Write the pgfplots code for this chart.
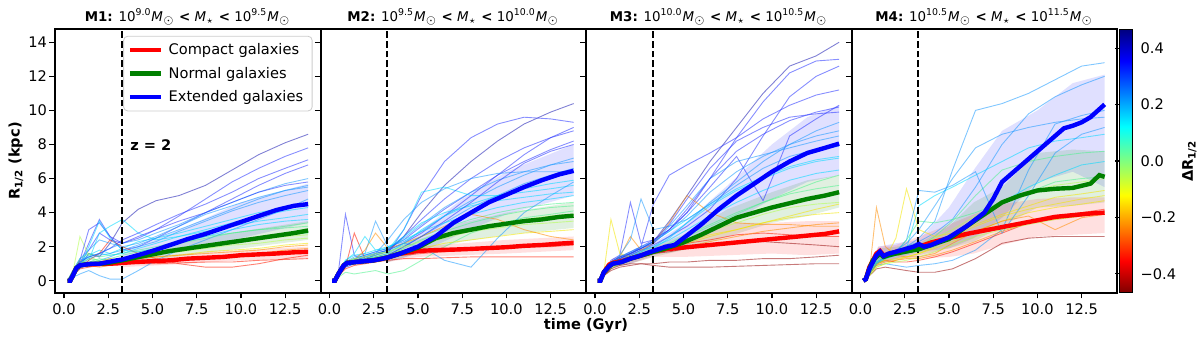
\documentclass[border=0pt]{standalone}
\usepackage{fontspec}
\setmainfont{DejaVu Sans}
\usepackage{pgfplots}
\usepackage{pgfplotstable}
\pgfplotsset{compat=1.18}
\usepgfplotslibrary{groupplots}

% jet-like colours used for the individual galaxies
\definecolor{jDR}{rgb}{0.6,0.05,0.05}
\definecolor{jR}{rgb}{1,0.1,0}
\definecolor{jO}{rgb}{1,0.55,0}
\definecolor{jY}{rgb}{0.95,0.9,0}
\definecolor{jYG}{rgb}{0.7,1,0.3}
\definecolor{jG}{rgb}{0.3,0.95,0.55}
\definecolor{jC}{rgb}{0,0.85,1}
\definecolor{jLB}{rgb}{0.1,0.6,1}
\definecolor{jB}{rgb}{0.15,0.2,1}
\definecolor{jDB}{rgb}{0.1,0.1,0.7}
\definecolor{mgreen}{rgb}{0,0.5,0}

\pgfplotsset{
  colormap={jetr}{rgb(0pt)=(0.5,0,0); rgb(12pt)=(1,0,0); rgb(37pt)=(1,1,0); rgb(50pt)=(0.5,1,0.5); rgb(63pt)=(0,1,1); rgb(88pt)=(0,0,1); rgb(100pt)=(0,0,0.5)},
  gal/.style={line width=0.45pt, draw opacity=0.55, forget plot},
  mean/.style={line width=2.2pt},
  band/.style={draw=none, fill opacity=0.12, forget plot},
  zline/.style={black, line width=1pt, dash pattern=on 3.4pt off 1.5pt, forget plot},
}
\newcommand{\gal}[3]{\addplot[gal,#2] table[x=x,y=#3]{#1};}
\newcommand{\Msun}{\textit{M}$_{\odot}$}
\newcommand{\Mst}{\textit{M}$_{\star}$}

% M1 individual tracks
\pgfplotstableread{
x     a   b   c   d   e   f   g   h   i   j   k   l   m   n    o   p   r   s   t   u   v   w   z1  z2
0.2   0   0   0   0   0   0   0   0   0   0   0   0   0   0    0   0   0   0   0   0   0   0   0   0
0.5   0.3 0.4 0.5 0.6 0.4 0.5 0.3 0.6 0.4 0.5 0.6 0.5 0.4 0.3  0.2 0.5 0.4 0.5 0.3 0.4 0.5 0.3 0.6 0.4
0.9   0.9 1.0 1.0 1.2 0.8 1.1 0.7 1.3 0.9 2.6 1.2 1.0 0.8 0.7  0.4 1.2 0.9 1.0 0.8 1.0 1.1 0.8 1.3 0.9
1.4   1.6 1.8 2.2 1.4 1.0 1.5 1.2 1.6 1.1 1.5 1.0 0.9 1.2 0.8  0.6 3.0 1.3 1.4 2.0 1.3 1.4 1.0 1.8 1.0
2.0   1.4 2.8 3.6 1.6 1.2 1.8 2.8 1.4 1.3 1.1 0.9 0.8 1.6 0.9  0.3 3.4 1.5 1.6 3.5 1.2 1.6 1.1 2.4 1.1
2.6   2.2 2.4 2.6 1.9 1.4 1.6 3.2 1.5 1.2 1.2 1.0 0.9 2.4 0.9  0.1 2.6 1.6 1.5 2.5 1.3 1.9 1.2 2.2 1.3
3.3   3.4 2.2 1.8 2.2 1.7 1.9 3.6 1.6 1.3 1.2 1.1 1.0 2.0 1.0  0.1 2.2 1.8 1.6 1.8 1.5 2.4 1.3 2.0 1.2
4.2   4.2 2.5 2.0 2.4 2.0 2.3 2.8 1.8 1.5 1.4 1.3 1.1 1.6 1.0  0.6 2.6 2.1 1.9 1.7 1.7 2.8 1.5 2.2 1.3
5.2   4.7 3.0 2.5 2.8 2.3 2.5 2.4 2.0 1.7 1.6 1.4 1.2 1.3 1.0  1.2 3.0 2.5 2.2 1.9 1.9 3.3 1.6 2.6 1.4
6.5   5.0 3.8 3.2 3.3 2.9 2.8 2.6 2.3 1.9 1.7 1.5 1.3 1.0 1.05 1.8 3.5 3.0 2.6 2.2 2.2 3.9 1.8 3.2 1.5
8.0   5.6 4.8 4.0 4.0 3.5 3.2 2.9 2.6 2.1 1.9 1.7 1.4 0.8 1.1  2.4 4.0 3.6 3.0 2.6 2.5 4.5 2.0 3.9 1.6
9.5   6.5 5.8 4.8 4.6 4.1 3.6 3.2 2.8 2.3 2.1 1.8 1.5 0.8 1.1  3.0 4.6 4.2 3.4 3.0 2.8 5.2 2.2 4.4 1.7
11.0  7.4 6.6 5.6 5.2 4.6 4.0 3.5 3.0 2.5 2.2 1.9 1.6 1.0 1.2  3.6 5.2 4.8 3.8 3.3 3.0 6.0 2.4 4.9 1.8
12.5  8.1 7.3 6.3 5.7 5.0 4.3 3.7 3.2 2.7 2.4 2.1 1.8 1.3 1.25 4.2 5.6 5.3 4.1 3.5 3.1 6.6 2.6 5.3 2.0
13.8  8.6 7.8 6.8 6.0 5.3 4.6 3.9 3.4 2.8 2.5 2.2 1.9 1.5 1.3  4.8 5.8 5.6 4.3 3.6 3.2 7.1 2.7 5.5 2.1
}\tabA

% M2 individual tracks
\pgfplotstableread{
x     a    b   c   d   e   f   g   h   i   j   k   l   m   n   o    p   r   s   t   u   v   w   z1  z2
0.2   0    0   0   0   0   0   0   0   0   0   0   0   0   0   0    0   0   0   0   0   0   0   0   0
0.5   0.4  0.3 0.5 0.4 0.5 0.3 0.4 0.5 0.4 0.2 0.5 0.4 0.4 0.3 0.3  0.4 0.4 0.5 0.3 0.5 0.4 0.4 0.3 0.5
0.9   1.0  0.9 3.9 1.0 1.1 0.8 1.0 1.2 0.9 0.5 1.1 1.0 1.0 0.8 0.7  1.0 1.0 1.1 0.9 1.2 0.9 1.0 0.8 1.1
1.4   1.2  1.1 1.5 1.3 1.4 1.0 1.3 1.5 1.2 0.4 1.3 1.2 1.2 2.8 0.9  1.2 1.2 1.3 1.1 1.6 1.1 1.2 1.0 1.3
2.0   1.3  1.2 1.2 1.5 1.6 1.2 1.5 1.6 1.3 0.5 1.4 1.3 1.8 1.3 1.0  1.3 1.4 1.5 1.3 2.6 1.2 1.4 1.1 1.4
2.6   1.5  1.4 1.6 1.7 3.5 1.3 1.6 1.8 1.5 0.6 1.5 1.4 2.8 1.3 1.1  1.5 1.6 1.7 1.4 1.8 1.4 1.6 1.3 1.6
3.3   1.7  1.6 1.8 1.9 2.0 1.5 1.8 2.0 1.7 0.4 1.6 1.5 1.9 1.4 1.2  1.8 1.8 1.9 1.6 1.9 1.5 2.4 1.5 1.7
4.2   2.6  3.0 2.2 2.4 2.3 2.0 3.0 2.4 2.1 0.6 1.8 1.7 2.2 1.5 1.3  2.2 2.6 2.5 2.2 2.6 1.9 3.6 2.0 2.0
5.2   4.0  5.0 2.8 3.2 2.9 2.6 5.2 2.9 2.6 1.2 2.1 1.9 2.6 1.6 1.3  2.0 3.6 3.3 3.0 3.4 2.4 4.6 2.6 2.3
6.5   5.6  7.0 3.8 4.2 3.8 3.4 5.5 3.4 3.1 2.0 2.5 2.2 3.2 1.7 1.35 1.2 4.8 4.3 3.8 4.0 2.9 5.4 3.5 2.7
8.0   7.0  8.4 5.0 5.2 4.7 4.3 5.0 3.9 3.6 2.8 2.9 2.4 3.9 1.8 1.4  0.8 6.0 5.2 4.5 4.4 3.4 6.0 4.6 3.0
9.5   8.2  9.2 6.2 6.2 5.5 5.0 5.0 4.3 4.0 3.3 3.1 2.6 3.6 1.9 1.4  2.5 7.0 5.9 5.0 4.7 3.8 6.3 5.8 3.3
11.0  9.2  9.6 7.4 7.0 6.2 5.7 5.2 4.6 4.3 3.7 3.3 2.8 3.0 2.0 1.4  4.0 7.8 6.4 5.4 4.9 4.1 6.4 6.9 3.6
12.5  9.9  9.5 8.4 7.7 6.8 6.2 5.4 4.8 4.5 3.9 3.4 2.9 2.6 2.0 1.4  5.0 8.4 6.8 5.7 5.1 4.3 6.4 7.6 3.8
13.8  10.4 9.3 9.0 8.2 7.2 6.6 5.6 5.0 4.6 4.1 3.5 3.0 2.4 2.1 1.4  5.8 8.8 7.0 5.9 5.2 4.4 6.4 8.0 3.9
}\tabB

% M3 individual tracks
\pgfplotstableread{
x     a    b    c    d    e    f   g   h   i   j   k   l   m   n   o   p    q   r    s   t   u   v   w   z1  z2
0.2   0    0    0    0    0    0   0   0   0   0   0   0   0   0   0   0    0   0    0   0   0   0   0   0   0
0.5   0.4  0.5  0.3  0.4  0.5  0.4 0.3 0.5 0.4 0.3 0.4 0.5 0.4 0.3 0.4 0.3  0.3 0.4  0.5 0.3 0.4 0.4 0.4 0.3 0.5
0.9   1.0  1.1  0.9  1.0  1.2  1.0 0.8 1.1 0.9 0.7 0.8 3.6 1.0 0.8 0.9 0.7  0.6 1.0  1.1 0.9 1.0 0.9 0.9 0.8 1.1
1.4   1.3  1.4  1.2  1.3  1.5  1.3 1.2 1.4 1.1 1.0 1.1 1.6 1.4 1.1 1.1 0.9  0.8 1.3  1.4 1.5 1.2 1.1 1.1 1.0 1.4
2.0   1.6  1.7  1.5  1.6  4.6  1.5 1.4 1.6 1.4 1.2 1.3 1.4 2.6 1.4 1.3 1.0  0.9 1.6  1.7 2.4 1.4 1.3 1.3 1.2 1.6
2.6   1.9  2.0  1.8  2.0  2.2  1.8 1.7 1.9 1.7 1.5 1.5 1.6 1.8 1.6 1.5 1.0  1.0 1.9  2.0 4.8 1.6 1.5 1.5 1.4 1.9
3.3   2.3  2.4  2.1  4.5  2.4  2.0 2.2 2.3 2.0 1.8 1.7 1.8 2.2 1.8 1.6 0.9  1.0 2.2  2.3 3.0 1.9 1.7 1.6 1.6 2.3
4.2   3.5  3.0  2.6  6.2  3.0  2.6 3.2 2.9 2.4 2.2 2.0 2.0 3.4 2.0 1.7 0.8  1.1 3.0  2.9 3.2 2.5 2.1 1.8 1.9 3.3
5.2   5.0  4.0  3.2  6.8  4.0  3.4 4.4 3.6 3.0 2.7 2.4 2.3 5.0 2.2 1.9 0.8  1.1 4.2  3.8 3.6 3.4 2.6 2.0 2.2 4.8
6.5   7.0  6.0  4.2  7.5  5.5  4.6 6.0 4.5 3.8 3.3 2.9 2.7 4.0 2.4 2.1 0.8  1.2 6.0  5.2 4.5 4.4 3.2 2.3 2.6 6.6
8.0   9.0  8.4  6.0  8.4  7.3  5.8 7.0 5.4 4.6 4.0 3.4 3.0 3.4 2.7 2.3 0.85 1.2 7.6  6.4 5.6 5.3 3.9 2.6 3.0 8.2
9.5   11.0 10.5 8.5  9.5  4.7  7.0 7.4 6.1 5.3 4.6 3.9 3.4 3.3 2.8 2.3 0.9  1.3 8.6  7.3 6.6 6.0 4.6 2.9 3.4 9.0
11.0  12.6 12.2 10.8 10.3 8.5  8.0 7.8 6.7 5.9 5.1 4.3 3.7 3.3 2.7 2.2 0.95 1.3 9.4  8.0 7.3 6.6 5.2 3.1 3.8 9.6
12.5  13.2 12.9 12.0 10.9 9.5  8.8 8.2 7.1 6.3 5.4 4.5 3.9 3.2 2.6 2.1 1.0  1.4 9.9  8.5 7.7 7.0 5.8 3.3 4.2 9.8
13.8  14.0 13.0 12.6 11.2 10.3 9.3 8.5 7.3 6.5 5.6 4.6 4.0 3.2 2.6 2.0 1.0  1.5 10.2 8.8 7.9 7.2 6.2 3.4 4.5 9.9
}\tabC

% M4 individual tracks
\pgfplotstableread{
x     a    b    c    d   e   f   g   h   i   j   k   l   m   n   r   s   t   u
0.2   0    0    0    0   0   0   0   0   0   0   0   0   0   0   0   0   0   0
0.5   0.6  0.5  0.4  0.5 0.4 0.5 0.4 0.3 0.5 0.4 0.3 0.5 0.4 0.4 0.4 0.5 0.3 0.4
0.9   1.3  1.2  0.9  1.1 1.0 1.2 0.9 0.8 4.3 1.0 0.7 1.1 1.0 0.9 1.0 1.1 0.8 1.0
1.4   1.6  1.5  1.0  1.4 1.3 1.4 1.3 1.0 2.0 1.2 0.8 1.4 1.3 1.1 1.2 1.3 1.0 1.4
2.0   1.8  1.7  0.9  1.6 1.5 1.6 2.5 1.2 1.5 1.1 0.7 1.7 1.5 1.2 1.3 1.6 1.1 1.8
2.6   2.0  2.0  0.8  1.9 1.7 1.8 5.4 1.4 1.4 1.1 0.6 2.4 1.6 1.3 1.4 2.4 1.2 2.2
3.3   2.5  2.3  0.9  4.4 2.0 2.1 3.0 1.6 1.4 1.2 0.5 5.3 1.8 1.3 1.6 3.5 1.4 3.0
4.2   3.5  2.8  1.0  5.0 2.6 2.5 2.6 1.9 1.6 1.4 0.5 5.2 2.0 1.5 2.0 3.4 1.7 4.4
5.2   6.5  3.6  1.2  5.5 3.5 3.0 2.8 2.3 2.2 1.7 0.7 5.6 2.6 1.8 2.6 3.6 2.1 6.0
6.5   10.0 5.5  1.8  6.2 5.0 3.8 3.3 2.9 2.9 2.2 1.3 6.4 3.6 2.3 3.2 4.0 2.6 7.8
8.0   10.4 8.0  3.0  7.0 6.5 4.6 3.9 3.5 3.5 2.8 2.2 2.8 4.6 2.9 3.8 4.6 3.0 8.6
9.5   11.0 9.8  6.5  7.8 7.0 5.2 4.4 4.0 3.8 3.4 2.5 5.0 5.5 3.4 4.2 5.2 3.3 9.0
11.0  11.8 10.8 9.2  8.2 7.3 5.6 4.9 4.3 3.0 3.8 2.6 7.5 6.2 3.6 4.5 5.8 3.6 9.3
12.5  12.6 11.5 9.7  8.4 7.5 5.8 5.1 4.5 3.7 4.0 2.6 8.6 6.8 3.8 4.8 6.0 3.8 9.5
13.8  12.8 12.0 10.0 8.6 7.6 6.0 5.3 4.7 3.9 4.2 2.6 9.0 7.0 3.9 5.0 6.1 4.0 9.6
}\tabD

\begin{document}
\fontsize{7.3}{8.6}\selectfont
\begin{tikzpicture}
\begin{groupplot}[
  group style={group size=4 by 1, horizontal sep=0pt},
  width=132.75pt, height=131.7pt, scale only axis,
  xmin=-0.51, xmax=14.5, ymin=-0.7, ymax=14.76,
  xtick={0,2.5,5,7.5,10,12.5},
  xticklabels={0.0,2.5,5.0,7.5,10.0,12.5},
  ytick={0,2,4,6,8,10,12,14},
  yticklabels={},
  tick pos=left, tick align=outside, major tick length=2.8pt,
  every tick/.style={black, line width=0.6pt},
  axis line style={line width=1pt},
  xticklabel style={inner ysep=2.5pt},
  yticklabel style={inner xsep=1pt},
  title style={at={(0.5,1)}, anchor=center, yshift=0pt, font=\fontsize{6.7}{8}\selectfont},
  every axis y label/.style={at={(axis description cs:-0.147,0.5)}, anchor=center, rotate=90},
]

% ---------------- M1 ----------------
\nextgroupplot[
  title={\textbf{M1:} 10\textsuperscript{9.0}\Msun\ \textbf{<} \Mst\ \textbf{<} 10\textsuperscript{9.5}\Msun},
  yticklabels={0,2,4,6,8,10,12,14},
  ylabel={\textbf{R\textsubscript{1/2} (kpc)}},
  legend style={at={(0.97,0.975)}, anchor=north east, draw=black!20, rounded corners=2pt,
    inner xsep=2pt, inner ysep=1.5pt, row sep=1.2pt, legend cell align=left,
    nodes={inner xsep=2.5pt}},
  legend image code/.code={\draw[#1] (0pt,0pt) -- (15.8pt,0pt);},
]
\addplot[band, fill=blue] coordinates {(3.3,1.6)(7,3.2)(10,4.6)(13.8,5.7)(13.8,3.4)(10,2.5)(7,1.8)(3.3,1.0)} -- cycle;
\addplot[band, fill=mgreen] coordinates {(3.3,1.4)(7,2.3)(10,2.9)(13.8,3.5)(13.8,2.4)(10,1.9)(7,1.5)(3.3,1.0)} -- cycle;
\addplot[band, fill=red] coordinates {(3.3,1.3)(7,1.6)(10,1.8)(13.8,2.0)(13.8,1.3)(10,1.2)(7,1.0)(3.3,0.8)} -- cycle;
\gal{\tabA}{jDB}{a}\gal{\tabA}{jB}{b}\gal{\tabA}{jB}{c}\gal{\tabA}{jLB}{d}
\gal{\tabA}{jLB}{e}\gal{\tabA}{jC}{f}\gal{\tabA}{jC}{g}\gal{\tabA}{jG}{h}
\gal{\tabA}{jG}{i}\gal{\tabA}{jYG}{j}\gal{\tabA}{jY}{k}\gal{\tabA}{jO}{l}
\gal{\tabA}{jR}{m}\gal{\tabA}{jR}{n}\gal{\tabA}{jLB}{o}\gal{\tabA}{jB}{p}
\gal{\tabA}{jLB}{r}\gal{\tabA}{jC}{s}\gal{\tabA}{jC}{t}\gal{\tabA}{jG}{u}
\gal{\tabA}{jB}{v}\gal{\tabA}{jYG}{w}\gal{\tabA}{jLB}{z1}\gal{\tabA}{jO}{z2}
\addplot[zline] coordinates {(3.25,-0.7)(3.25,14.76)};
\addplot[mean, red] coordinates {(0.2,0)(0.35,0)(0.5,0.3)(0.7,0.75)(0.9,0.9)(1.2,0.95)(1.6,0.97)(2.0,0.98)(2.5,1.0)(3.0,1.02)(3.3,1.05)(4.0,1.1)(5.0,1.15)(6.0,1.2)(7.0,1.3)(8.0,1.35)(9.0,1.4)(10.0,1.5)(11.0,1.55)(12.0,1.6)(13.0,1.67)(13.8,1.7)};
\addlegendentry{Compact galaxies}
\addplot[mean, mgreen] coordinates {(0.2,0)(0.35,0)(0.5,0.3)(0.7,0.75)(0.9,0.9)(1.2,0.95)(1.6,1.0)(2.0,1.0)(2.5,1.05)(3.0,1.15)(3.3,1.2)(4.0,1.35)(5.0,1.55)(6.0,1.75)(7.0,1.9)(8.0,2.05)(9.0,2.2)(10.0,2.35)(11.0,2.5)(12.0,2.65)(13.0,2.8)(13.8,2.95)};
\addlegendentry{Normal galaxies}
\addplot[mean, blue] coordinates {(0.2,0)(0.35,0)(0.5,0.3)(0.7,0.75)(0.9,0.9)(1.2,0.95)(1.6,1.0)(2.0,1.0)(2.5,1.1)(3.0,1.2)(3.3,1.25)(4.0,1.45)(5.0,1.75)(6.0,2.1)(7.0,2.45)(8.0,2.75)(9.0,3.1)(10.0,3.45)(11.0,3.8)(12.0,4.15)(13.0,4.4)(13.8,4.5)};
\addlegendentry{Extended galaxies}
\node[anchor=west, font=\bfseries] at (axis cs:3.45,7.97) {z = 2};

% ---------------- M2 ----------------
\nextgroupplot[
  title={\textbf{M2:} 10\textsuperscript{9.5}\Msun\ \textbf{<} \Mst\ \textbf{<} 10\textsuperscript{10.0}\Msun},
]
\addplot[band, fill=blue] coordinates {(3.3,1.8)(5,2.8)(7.5,4.8)(10,6.4)(13.8,8.0)(13.8,5.0)(10,3.9)(7.5,2.8)(5,1.6)(3.3,1.1)} -- cycle;
\addplot[band, fill=mgreen] coordinates {(3.3,1.7)(5,2.4)(7.5,3.4)(10,4.0)(13.8,4.6)(13.8,3.1)(10,2.7)(7.5,2.3)(5,1.6)(3.3,1.1)} -- cycle;
\addplot[band, fill=red] coordinates {(3.3,1.6)(5,2.0)(7.5,2.2)(10,2.4)(13.8,2.6)(13.8,1.8)(10,1.6)(7.5,1.5)(5,1.4)(3.3,1.1)} -- cycle;
\gal{\tabB}{jDB}{a}\gal{\tabB}{jB}{b}\gal{\tabB}{jB}{c}\gal{\tabB}{jB}{d}
\gal{\tabB}{jLB}{e}\gal{\tabB}{jLB}{f}\gal{\tabB}{jC}{g}\gal{\tabB}{jC}{h}
\gal{\tabB}{jG}{i}\gal{\tabB}{jG}{j}\gal{\tabB}{jYG}{k}\gal{\tabB}{jY}{l}
\gal{\tabB}{jO}{m}\gal{\tabB}{jR}{n}\gal{\tabB}{jR}{o}\gal{\tabB}{jLB}{p}
\gal{\tabB}{jB}{r}\gal{\tabB}{jLB}{s}\gal{\tabB}{jC}{t}\gal{\tabB}{jC}{u}
\gal{\tabB}{jG}{v}\gal{\tabB}{jLB}{w}\gal{\tabB}{jB}{z1}\gal{\tabB}{jYG}{z2}
\addplot[zline] coordinates {(3.25,-0.7)(3.25,14.76)};
\addplot[mean, red] coordinates {(0.15,0)(0.3,0)(0.5,0.4)(0.8,0.9)(1.0,1.05)(1.5,1.1)(2.0,1.15)(2.5,1.2)(3.0,1.3)(3.3,1.37)(4.0,1.6)(5.0,1.75)(6.0,1.8)(7.0,1.83)(8.0,1.87)(9.0,1.92)(10.0,1.97)(11.0,2.05)(12.0,2.1)(13.0,2.18)(13.8,2.23)};
\addplot[mean, mgreen] coordinates {(0.15,0)(0.3,0)(0.5,0.4)(0.8,0.9)(1.0,1.05)(1.5,1.1)(2.0,1.15)(2.5,1.2)(3.0,1.3)(3.3,1.37)(4.0,1.6)(5.0,1.95)(6.0,2.5)(7.0,2.8)(8.0,3.0)(9.0,3.2)(10.0,3.35)(11.0,3.5)(12.0,3.6)(13.0,3.75)(13.8,3.82)};
\addplot[mean, blue] coordinates {(0.15,0)(0.3,0)(0.5,0.4)(0.8,0.9)(1.0,1.05)(1.5,1.1)(2.0,1.15)(2.5,1.2)(3.0,1.3)(3.3,1.37)(4.0,1.6)(5.0,2.0)(6.0,2.6)(7.0,3.4)(8.0,4.0)(9.0,4.6)(10.0,5.05)(11.0,5.5)(12.0,5.9)(13.0,6.25)(13.8,6.45)};

% ---------------- M3 ----------------
\nextgroupplot[
  title={\textbf{M3:} 10\textsuperscript{10.0}\Msun\ \textbf{<} \Mst\ \textbf{<} 10\textsuperscript{10.5}\Msun},
]
\addplot[band, fill=blue] coordinates {(0.2,0)(1,1.3)(2,1.7)(3.3,2.2)(5,3.3)(7.5,5.6)(10,8.0)(12,9.6)(13.8,10.3)(13.8,6.2)(12,5.8)(10,4.8)(7.5,3.3)(5,2.0)(3.3,1.5)(2,1.0)(1,0.8)} -- cycle;
\addplot[band, fill=mgreen] coordinates {(0.2,0)(1,1.2)(2,1.6)(3.3,2.0)(5,2.7)(7.5,4.2)(10,5.2)(12,5.9)(13.8,6.2)(13.8,4.3)(12,3.8)(10,3.4)(7.5,2.6)(5,1.8)(3.3,1.4)(2,1.0)(1,0.8)} -- cycle;
\addplot[band, fill=red] coordinates {(0.2,0)(1,1.3)(2,1.6)(3.3,2.0)(5,2.4)(7.5,3.4)(10,3.4)(12,3.5)(13.8,3.5)(13.8,1.6)(12,1.5)(10,1.6)(7.5,1.5)(5,1.4)(3.3,1.4)(2,1.0)(1,0.8)} -- cycle;
\gal{\tabC}{jDB}{a}\gal{\tabC}{jB}{b}\gal{\tabC}{jB}{c}\gal{\tabC}{jB}{d}
\gal{\tabC}{jB}{e}\gal{\tabC}{jLB}{f}\gal{\tabC}{jLB}{g}\gal{\tabC}{jC}{h}
\gal{\tabC}{jC}{i}\gal{\tabC}{jG}{j}\gal{\tabC}{jYG}{k}\gal{\tabC}{jY}{l}
\gal{\tabC}{jO}{m}\gal{\tabC}{jR}{n}\gal{\tabC}{jDR}{o}\gal{\tabC}{jDR}{p}
\gal{\tabC}{jDR}{q}\gal{\tabC}{jB}{r}\gal{\tabC}{jLB}{s}\gal{\tabC}{jLB}{t}
\gal{\tabC}{jC}{u}\gal{\tabC}{jG}{v}\gal{\tabC}{jO}{w}\gal{\tabC}{jY}{z1}
\gal{\tabC}{jB}{z2}
\addplot[zline] coordinates {(3.25,-0.7)(3.25,14.76)};
\addplot[mean, red] coordinates {(0.15,0)(0.3,0)(0.5,0.5)(0.8,0.95)(1.0,1.05)(1.5,1.15)(2.0,1.3)(2.5,1.45)(3.0,1.6)(3.3,1.72)(4.0,1.85)(5.0,1.95)(6.0,2.05)(7.0,2.15)(8.0,2.25)(9.0,2.35)(10.0,2.45)(11.0,2.55)(12.0,2.65)(13.0,2.75)(13.8,2.9)};
\addplot[mean, mgreen] coordinates {(0.15,0)(0.3,0)(0.5,0.5)(0.8,0.85)(1.0,1.0)(1.5,1.1)(2.0,1.3)(2.5,1.45)(3.0,1.6)(3.3,1.7)(4.0,1.9)(5.0,2.25)(6.0,2.7)(7.0,3.2)(8.0,3.7)(9.0,4.0)(10.0,4.3)(11.0,4.55)(12.0,4.8)(13.0,5.0)(13.8,5.2)};
\addplot[mean, blue] coordinates {(0.15,0)(0.3,0)(0.5,0.5)(0.8,0.85)(1.0,1.0)(1.5,1.1)(2.0,1.3)(2.5,1.45)(3.0,1.65)(3.3,1.75)(4.0,2.0)(4.5,2.1)(5.0,2.5)(6.0,3.3)(7.0,4.2)(8.0,5.0)(9.0,5.7)(10.0,6.4)(11.0,7.0)(12.0,7.5)(13.0,7.8)(13.8,8.05)};

% ---------------- M4 ----------------
\nextgroupplot[
  title={\textbf{M4:} 10\textsuperscript{10.5}\Msun\ \textbf{<} \Mst\ \textbf{<} 10\textsuperscript{11.5}\Msun},
  colorbar, colormap name=jetr,
  point meta min=-0.467, point meta max=0.467,
  colorbar style={
    at={(parent axis.north east)}, anchor=north west, xshift=-7.4pt,
    width=6.5pt,
    ytick={-0.4,-0.2,0,0.2,0.4},
    yticklabels={−0.4,−0.2,0.0,0.2,0.4},
    tick align=outside, major tick length=2pt,
    every tick/.style={black, line width=0.6pt},
    axis line style={line width=0.6pt},
    yticklabel style={inner xsep=2pt},
    ylabel={\textbf{ΔR\textsubscript{1/2}}},
    every axis y label/.style={at={(axis description cs:5.4,0.5)}, anchor=center, rotate=90},
  },
]
\addplot[band, fill=blue] coordinates {(0.2,0)(1,2.0)(2,2.2)(3.3,2.4)(5,4.3)(6.4,6.5)(8,8.8)(10,10.0)(12,11.6)(13.8,12.1)(13.8,5.5)(12,6.4)(10,5.8)(8,3.7)(6.4,2.5)(5,1.9)(3.3,1.7)(2,1.3)(1,1.0)} -- cycle;
\addplot[band, fill=mgreen] coordinates {(0.2,0)(1,1.9)(2,2.0)(3.3,2.2)(5,3.2)(6.4,4.6)(8,5.5)(10,7.5)(12,7.7)(13.8,7.6)(13.8,4.6)(12,4.4)(10,4.3)(8,3.2)(6.4,2.3)(5,1.9)(3.3,1.5)(2,1.2)(1,1.0)} -- cycle;
\addplot[band, fill=red] coordinates {(0.2,0)(1,2.0)(2,2.1)(3.3,2.6)(5,3.3)(6.4,3.9)(8,4.5)(10,4.8)(12,4.9)(13.8,4.9)(13.8,2.8)(12,2.7)(10,2.6)(8,2.1)(6.4,1.6)(5,1.4)(3.3,1.3)(2,1.2)(1,1.0)} -- cycle;
\gal{\tabD}{jLB}{a}\gal{\tabD}{jLB}{b}\gal{\tabD}{jLB}{c}\gal{\tabD}{jC}{d}
\gal{\tabD}{jG}{e}\gal{\tabD}{jYG}{f}\gal{\tabD}{jY}{g}\gal{\tabD}{jY}{h}
\gal{\tabD}{jO}{i}\gal{\tabD}{jR}{j}\gal{\tabD}{jDR}{k}\gal{\tabD}{jLB}{l}
\gal{\tabD}{jC}{m}\gal{\tabD}{jO}{n}\gal{\tabD}{jY}{r}\gal{\tabD}{jG}{s}
\gal{\tabD}{jYG}{t}\gal{\tabD}{jLB}{u}
\addplot[zline] coordinates {(3.25,-0.7)(3.25,14.76)};
\addplot[mean, red] coordinates {(0.16,0)(0.3,0.1)(0.5,0.8)(0.7,1.2)(0.9,1.6)(1.1,1.75)(1.3,1.5)(1.6,1.55)(2.0,1.7)(2.5,1.8)(3.0,1.9)(3.3,2.0)(4.0,2.25)(5.0,2.5)(6.0,2.75)(7.0,2.95)(8.0,3.15)(9.0,3.35)(10.0,3.55)(11.0,3.75)(12.0,3.85)(13.0,3.95)(13.8,4.0)};
\addplot[mean, mgreen] coordinates {(0.16,0)(0.3,0.1)(0.5,0.7)(0.7,1.2)(0.9,1.4)(1.1,1.6)(1.3,1.4)(1.6,1.5)(2.0,1.6)(2.5,1.7)(3.0,1.8)(3.3,1.85)(4.0,2.1)(5.0,2.45)(6.0,3.2)(7.0,3.9)(8.0,4.6)(9.0,5.0)(10.0,5.3)(11.0,5.4)(12.0,5.45)(13.0,5.7)(13.5,6.2)(13.8,6.1)};
\addplot[mean, blue] coordinates {(0.16,0)(0.3,0.1)(0.5,0.7)(0.7,1.1)(0.9,1.5)(1.1,1.7)(1.3,1.45)(1.6,1.6)(2.0,1.7)(2.5,1.85)(3.0,2.0)(3.3,2.15)(3.6,2.0)(4.0,2.1)(5.0,2.55)(6.0,3.2)(7.0,4.0)(7.5,4.8)(8.0,5.8)(9.0,6.7)(10.0,7.6)(11.0,8.5)(11.5,8.95)(12.0,9.1)(12.5,9.3)(13.0,9.6)(13.8,10.35)};
\end{groupplot}
\node[anchor=center, font=\bfseries] at ([yshift=-16.5pt]group c2r1.south east) {time (Gyr)};
\pgfresetboundingbox
\path ([xshift=-27.5pt,yshift=-21.65pt]group c1r1.south west) rectangle ([xshift=41.5pt,yshift=14.65pt]group c4r1.north east);
\end{tikzpicture}
\end{document}
